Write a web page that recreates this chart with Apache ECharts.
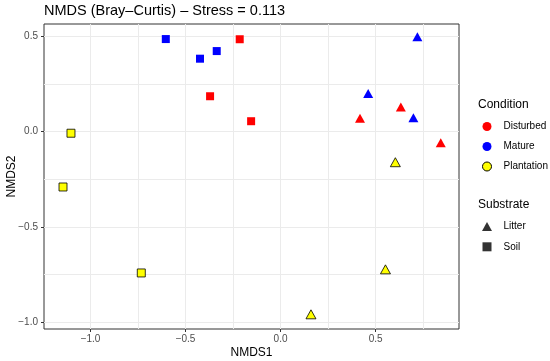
<!DOCTYPE html>
<html>
<head>
<meta charset="utf-8">
<script src="https://cdn.jsdelivr.net/npm/echarts@6/dist/echarts.min.js"></script>
<style>html,body{margin:0;padding:0;background:#fff;}#c{width:550px;height:361px;}</style>
</head>
<body>
<div id="c"></div>
<script>
// ---- data (NMDS1, NMDS2) ----
const disturbedSoilX = [-0.215, -0.371, -0.155];
const disturbedSoilY = [0.485, 0.186, 0.055];
const matureSoilX = [-0.604, -0.424, -0.336];
const matureSoilY = [0.486, 0.383, 0.423];
const plantationSoilX = [-1.103, -1.145, -0.733];
const plantationSoilY = [-0.008, -0.290, -0.741];
const disturbedLitterX = [0.633, 0.418, 0.843];
const disturbedLitterY = [0.130, 0.070, -0.058];
const matureLitterX = [0.720, 0.461, 0.699];
const matureLitterY = [0.498, 0.200, 0.073];
const plantationLitterX = [0.604, 0.552, 0.160];
const plantationLitterY = [-0.160, -0.722, -0.958];

const conditions = ['Disturbed', 'Mature', 'Plantation'];
const substrates = ['Litter', 'Soil'];
const xMajor = [-1.0, -0.5, 0.0, 0.5];
const xMinor = [-0.75, -0.25, 0.25, 0.75];
const yMajor = [-1.0, -0.5, 0.0, 0.5];
const yMinor = [-0.75, -0.25, 0.25];
const titleText = 'NMDS (Bray\u2013Curtis) \u2013 Stress = 0.113';

const colors = { Disturbed: '#ff0000', Mature: '#0000ff', Plantation: '#ffff00' };
const pts = (xs, ys) => xs.map((x, i) => [x, ys[i]]);
const fmt = v => { const s = Math.abs(v).toFixed(1); return v < -1e-9 ? '\u2212' + s : s; };

function mk(name, data, shape) {
  const isPl = name === 'Plantation';
  return {
    name: name, type: 'scatter', xAxisIndex: 0, yAxisIndex: 0,
    data: data,
    symbol: shape === 'tri' ? 'triangle' : 'rect',
    symbolSize: shape === 'tri' ? [10, 9] : 8,
    itemStyle: { color: colors[name], borderColor: isPl ? '#000' : colors[name], borderWidth: isPl ? 0.8 : 0, opacity: 1 },
    emphasis: { disabled: true }, z: 5
  };
}

const xMin = -1.245, xMax = 0.939, yMin = -1.035, yMax = 0.565;
const gridLine = { show: true, lineStyle: { color: '#ebebeb', width: 1 } };
const hidden = { axisLine: { show: false, onZero: false }, axisLabel: { show: false } };

const option = {
  animation: false,
  backgroundColor: '#fff',
  title: [
    { text: titleText, left: 39, top: -2, textStyle: { fontFamily: 'Liberation Sans', fontSize: 14.5, fontWeight: 'normal', color: '#000' } },
    { text: 'Condition', left: 473, top: 94, textStyle: { fontFamily: 'Liberation Sans', fontSize: 12, fontWeight: 'normal', color: '#000' } },
    { text: 'Substrate', left: 473, top: 194, textStyle: { fontFamily: 'Liberation Sans', fontSize: 12, fontWeight: 'normal', color: '#000' } }
  ],
  grid: { left: 44, top: 24, right: 91, bottom: 32, outerBoundsMode: 'none', containLabel: false,
    show: true, borderColor: '#333', borderWidth: 1, backgroundColor: 'transparent' },
  xAxis: [
    { type: 'value', min: xMin, max: xMax, name: 'NMDS1', nameLocation: 'middle', nameGap: 18, nameMoveOverlap: false,
      nameTextStyle: { fontFamily: 'Liberation Sans', fontSize: 12, color: '#000' },
      axisLine: { show: false, onZero: false },
      axisTick: { show: true, inside: false, length: 3, lineStyle: { color: '#333', width: 1 }, customValues: xMajor },
      axisLabel: { show: true, margin: 5, fontFamily: 'Liberation Sans', fontSize: 10, color: '#4d4d4d', customValues: xMajor, formatter: fmt },
      splitLine: gridLine, z: 3 },
    Object.assign({ type: 'value', min: xMin, max: xMax, gridIndex: 0, position: 'bottom',
      splitLine: gridLine }, hidden, { axisTick: { show: false, customValues: xMinor } })
  ],
  yAxis: [
    { type: 'value', min: yMin, max: yMax, name: 'NMDS2', nameLocation: 'middle', nameGap: 26, nameRotate: 90, nameMoveOverlap: false,
      nameTextStyle: { fontFamily: 'Liberation Sans', fontSize: 12, color: '#000' },
      axisLine: { show: false, onZero: false },
      axisTick: { show: true, inside: false, length: 3, lineStyle: { color: '#333', width: 1 }, customValues: yMajor },
      axisLabel: { show: true, margin: 6, fontFamily: 'Liberation Sans', fontSize: 10, color: '#4d4d4d', customValues: yMajor, formatter: fmt },
      splitLine: gridLine, z: 3 },
    Object.assign({ type: 'value', min: yMin, max: yMax, gridIndex: 0, position: 'left',
      splitLine: gridLine }, hidden, { axisTick: { show: false, customValues: yMinor } })
  ],
  legend: [
    { orient: 'vertical', left: 477, top: 116.5, itemWidth: 23, itemHeight: 9, itemGap: 10,
      textStyle: { fontFamily: 'Liberation Sans', fontSize: 10, color: '#000' },
      selectedMode: false,
      data: conditions.map(c => ({ name: c, icon: 'circle',
        itemStyle: { color: colors[c], borderColor: c === 'Plantation' ? '#000' : colors[c], borderWidth: c === 'Plantation' ? 1 : 0 } })) },
    { orient: 'vertical', left: 477, top: 216.5, itemWidth: 23, itemHeight: 9, itemGap: 10.3,
      textStyle: { fontFamily: 'Liberation Sans', fontSize: 10, color: '#000' },
      selectedMode: false,
      data: [
        { name: 'Litter', icon: 'path://M0.5,0L1,0.9L0,0.9Z', itemStyle: { color: '#000' } },
        { name: 'Soil', icon: 'path://M0,0L1,0L1,1L0,1Z', itemStyle: { color: '#000' } }
      ] }
  ],
  series: [
    mk('Disturbed', pts(disturbedLitterX, disturbedLitterY), 'tri'),
    mk('Disturbed', pts(disturbedSoilX, disturbedSoilY), 'sq'),
    mk('Mature', pts(matureLitterX, matureLitterY), 'tri'),
    mk('Mature', pts(matureSoilX, matureSoilY), 'sq'),
    mk('Plantation', pts(plantationLitterX, plantationLitterY), 'tri'),
    mk('Plantation', pts(plantationSoilX, plantationSoilY), 'sq'),
    { name: substrates[0], type: 'scatter', data: [], symbol: 'triangle', itemStyle: { color: '#000' } },
    { name: substrates[1], type: 'scatter', data: [], symbol: 'rect', itemStyle: { color: '#000' } }
  ]
};
const chart = echarts.init(document.getElementById('c'), null, { renderer: 'canvas' });
chart.setOption(option);
</script>
</body>
</html>
